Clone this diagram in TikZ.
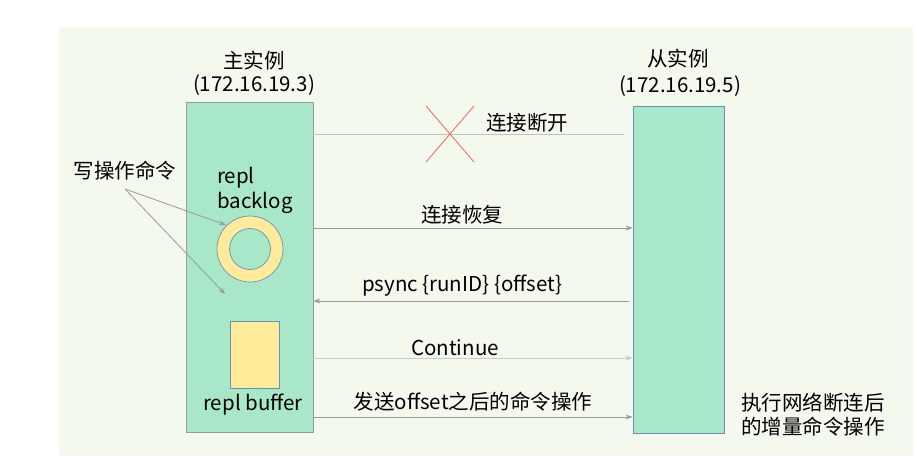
\documentclass[tikz,border=0pt]{standalone}
\usepackage{fontspec}
\setmainfont{Noto Sans CJK SC}
\usetikzlibrary{arrows.meta}
\definecolor{bgc}{HTML}{F4F9EE}
\definecolor{mint}{HTML}{A8E8C8}
\definecolor{ylw}{HTML}{FFEB99}
\definecolor{blu}{HTML}{6C8EBF}
\definecolor{gry}{HTML}{9A9A9A}
\definecolor{lgry}{HTML}{C8CCC8}
\definecolor{redx}{HTML}{FF4D4D}
\begin{document}
\begin{tikzpicture}[x=1pt,y=-1pt,
  txt/.style={inner sep=0pt,font=\fontsize{20.5}{24}\selectfont},
  inst/.style={draw,fill=mint,inner sep=0pt,line width=0.8pt},
  conn/.style={draw=gry,line width=0.8pt},
  arr/.style={conn,-{Stealth[length=7pt,width=5pt]}},
  yel/.style={draw=blu,fill=ylw,line width=0.7pt}]
\useasboundingbox (0,0) rectangle (917,469);
\fill[bgc] (59,27) rectangle (913,456);
% instances
\node[inst,draw=gry,minimum width=127pt,minimum height=330pt] (m) at (249.5,267) {};
\node[inst,draw=blu,minimum width=91pt,minimum height=327pt] (s) at (678.5,269.5) {};
% titles
\node[txt] (mt1) at (254,61) {主实例};
\node[txt] (mt2) at (254,85) {(172.16.19.3)};
\node[txt] (st1) at (678,59) {从实例};
\node[txt] (st2) at (680,86) {(172.16.19.5)};
% backlog ring
\node[yel,circle,minimum size=66pt] (ring) at (250,249) {};
\node[draw=blu,fill=mint,line width=0.7pt,circle,minimum size=41pt,inner sep=0pt] (hole) at (250,249) {};
\node[txt,anchor=west] (rl1) at (217,178) {repl};
\node[txt,anchor=west] (rl2) at (217,203) {backlog};
% buffer
\node[yel,minimum width=49pt,minimum height=67pt,inner sep=0pt] (buf) at (254.5,354.5) {};
\node[txt] (bl) at (253,405) {repl buffer};
% write commands
\node[txt] (wc) at (125,171) {写操作命令};
\coordinate (wcs) at (125,189);
\coordinate (t1) at (226,225);
\coordinate (t2) at (225,294);
\draw[arr] (wcs) -- (t1);
\draw[arr] (wcs) -- (t2);
% connectors
\coordinate (y1) at (0,134);
\coordinate (y1e) at (624,134);
\coordinate (y2) at (0,228);
\coordinate (y3) at (0,301);
\coordinate (y3s) at (629,301);
\coordinate (y4) at (0,358);
\coordinate (y5) at (0,417);
\draw[conn,draw=lgry!80!gry] (m.east |- y1) -- (y1e);
\draw[arr] (m.east |- y2) -- (s.west |- y2);
\draw[arr] (y3s) -- (m.east |- y3);
\draw[arr,draw=lgry] (m.east |- y4) -- (s.west |- y4);
\draw[arr] (m.east |- y5) -- (s.west |- y5);
% red cross
\coordinate (xa) at (426,106);
\coordinate (xb) at (474,162);
\coordinate (xc) at (474,106);
\coordinate (xd) at (426,162);
\draw[redx,line width=0.7pt] (xa) -- (xb) (xc) -- (xd);
% labels
\node[txt] (l1) at (527,123) {连接断开};
\node[txt] (l2) at (462,215) {连接恢复};
\node[txt] (l3) at (462,286) {psync \{runID\} \{offset\}};
\node[txt] (l4) at (455,348) {Continue};
\node[txt] (l5) at (473,402) {发送offset之后的命令操作};
\node[txt,anchor=west,align=left] (rt) at (741,415) {执行网络断连后\\的增量命令操作};
\end{tikzpicture}
\end{document}
